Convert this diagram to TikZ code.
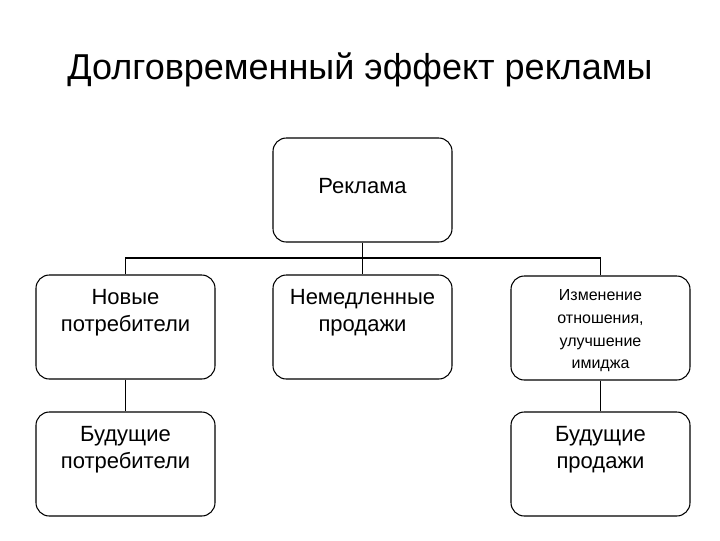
\documentclass[tikz,border=0pt]{standalone}
\usepackage{fontspec}
\setmainfont{Liberation Sans}
\begin{document}
\begin{tikzpicture}[x=0.75pt,y=-0.75pt,
  box/.style={draw,rounded corners=10pt,line width=0.8pt,minimum width=179*0.75pt,minimum height=104*0.75pt,inner sep=0pt},
  lbl/.style={align=center,font=\fontsize{16.5}{20}\selectfont,anchor=north},
  sml/.style={align=center,font=\fontsize{12}{17}\selectfont,anchor=north},
  ln/.style={line width=0.8pt}]
\useasboundingbox (0,0) rectangle (720,540);
\node[font=\fontsize{27}{31}\selectfont] (title) at (360,70) {Долговременный эффект рекламы};
\node[box] (top) at (362.5,190) {};
\node[box] (a) at (125.5,327) {};
\node[box] (b) at (362.5,327) {};
\node[box] (c) at (600.5,328) {};
\node[box] (d) at (125.5,464) {};
\node[box] (e) at (600.5,464) {};
\node[lbl] (ttop) at (362.5,174) {Реклама};
\node[lbl] (ta) at (125.5,285) {Новые\\потребители};
\node[lbl] (tb) at (362.5,285) {Немедленные\\продажи};
\node[sml] (tc) at (600.5,285) {Изменение\\отношения,\\улучшение\\имиджа};
\node[lbl] (td) at (125.5,422) {Будущие\\потребители};
\node[lbl] (te) at (600.5,422) {Будущие\\продажи};
\coordinate (j) at (362.5,258);
\draw[ln] (top.south) -- (j);
\draw[ln] (a.north) |- (j) -| (c.north);
\draw[ln] (j) -- (b.north);
\draw[ln] (a.south) -- (d.north);
\draw[ln] (c.south) -- (e.north);
\end{tikzpicture}
\end{document}
